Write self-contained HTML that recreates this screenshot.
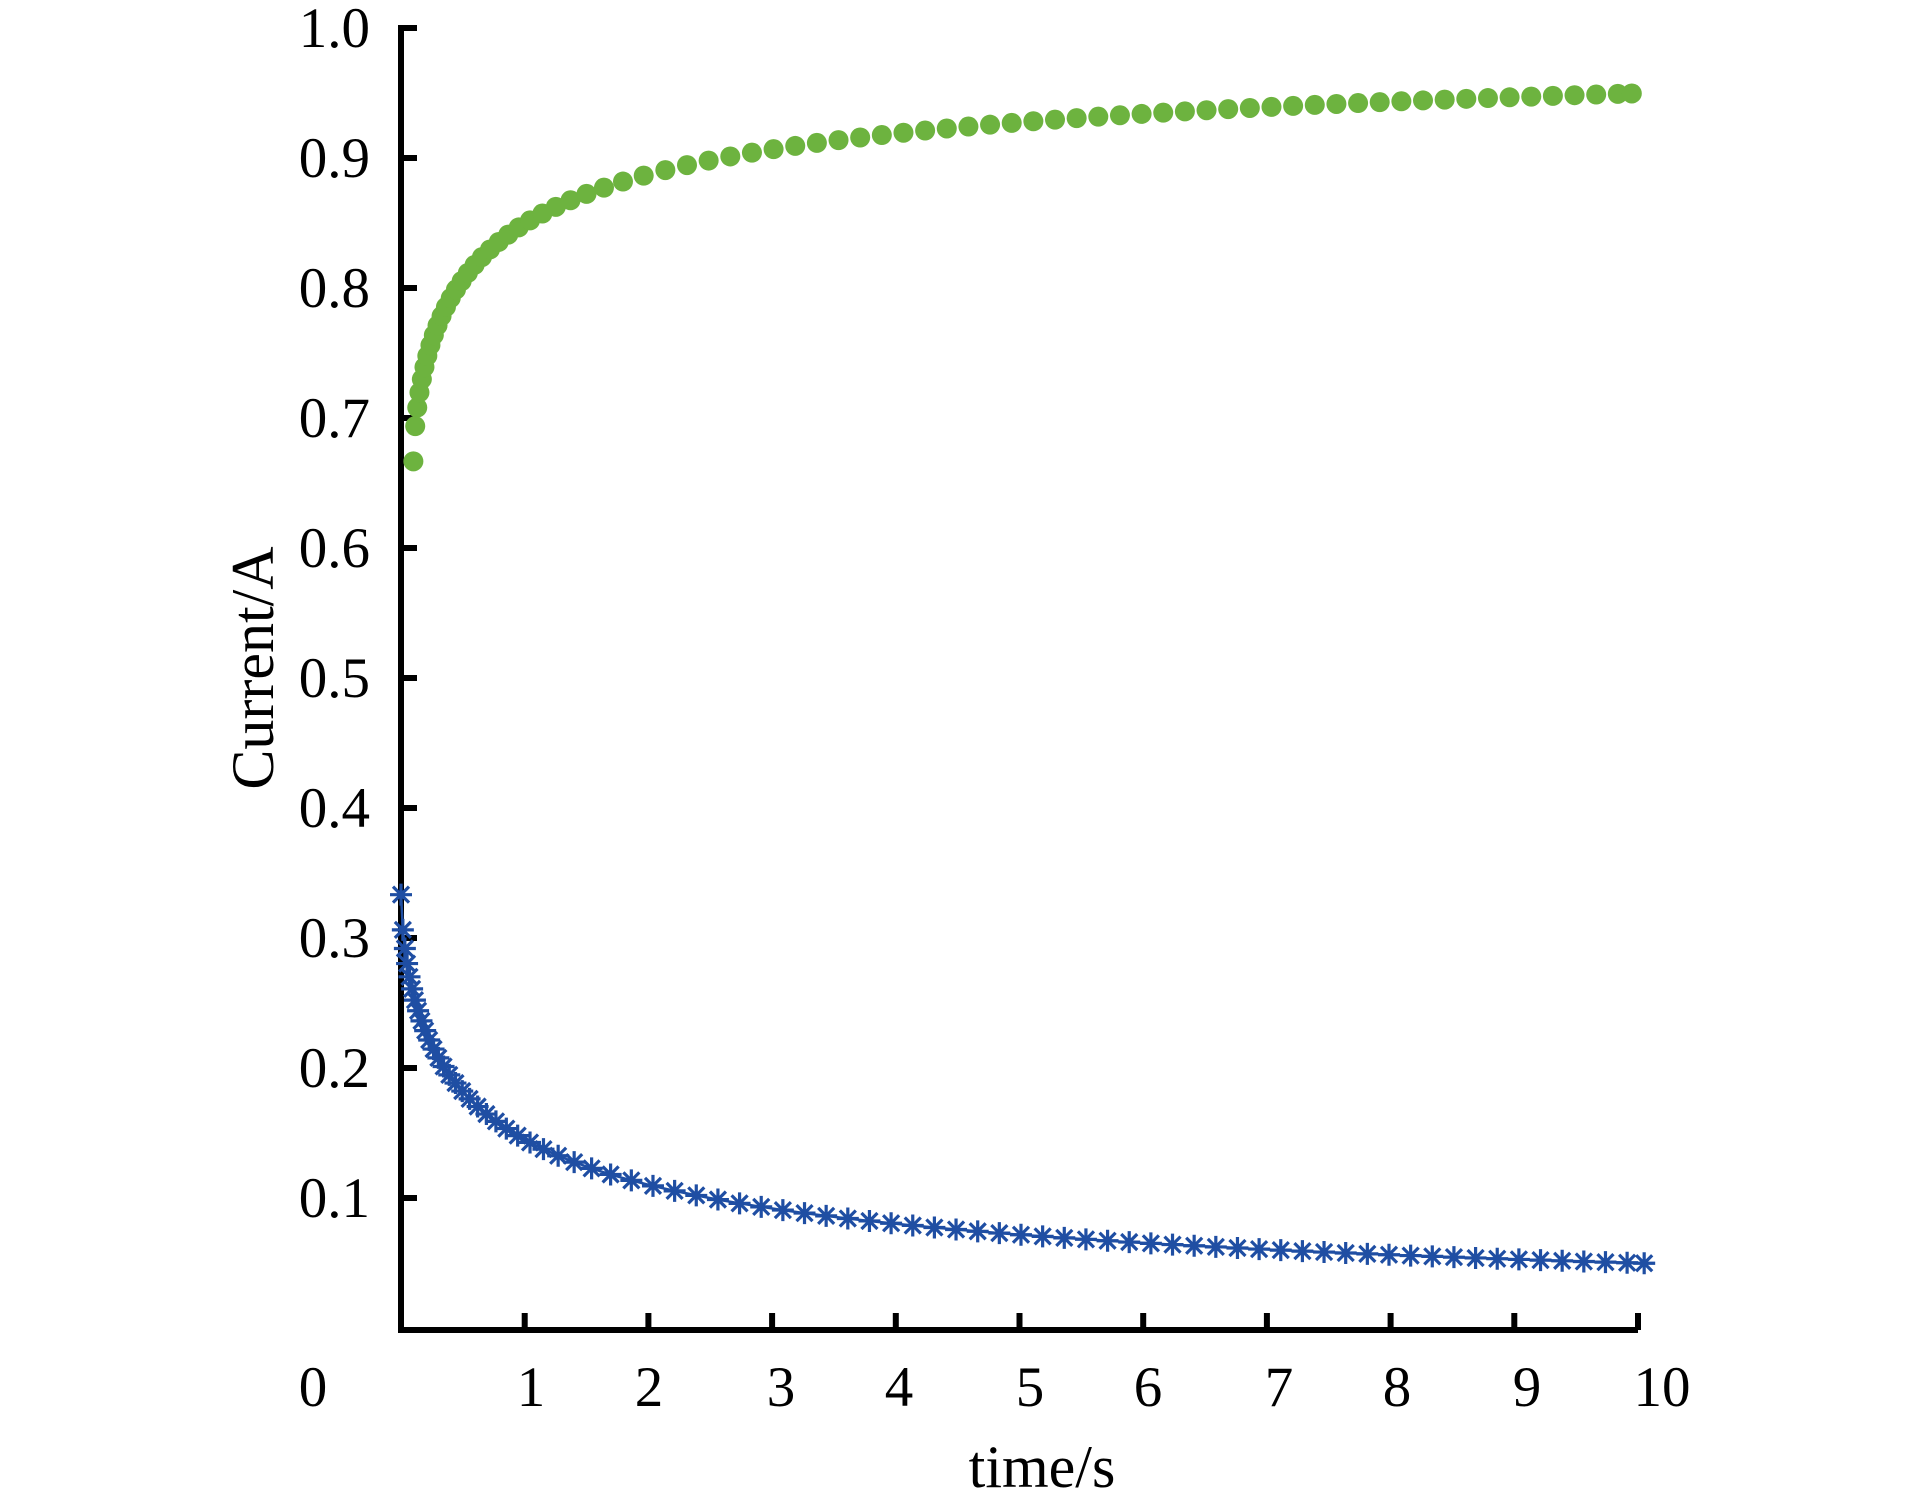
<!DOCTYPE html>
<html><head><meta charset="utf-8"><style>
html,body{margin:0;padding:0;background:#fff;}
svg{display:block;}
text{font-family:"Liberation Serif",serif;fill:#000;}
</style></head><body>
<svg id="s" width="1913" height="1488" viewBox="0 0 1913 1488" xmlns="http://www.w3.org/2000/svg">
<g font-size="57" text-anchor="end">
<text x="370" y="47">1.0</text>
<text x="370" y="177">0.9</text>
<text x="370" y="307">0.8</text>
<text x="370" y="437">0.7</text>
<text x="370" y="567">0.6</text>
<text x="370" y="697">0.5</text>
<text x="370" y="827">0.4</text>
<text x="370" y="957">0.3</text>
<text x="370" y="1087">0.2</text>
<text x="370" y="1217">0.1</text>
</g>
<g font-size="57" text-anchor="middle">
<text x="313" y="1406">0</text>
<text x="531" y="1406">1</text>
<text x="649" y="1406">2</text>
<text x="781" y="1406">3</text>
<text x="899" y="1406">4</text>
<text x="1030" y="1406">5</text>
<text x="1148" y="1406">6</text>
<text x="1279" y="1406">7</text>
<text x="1397" y="1406">8</text>
<text x="1527" y="1406">9</text>
<text x="1662" y="1406">10</text>
<text x="1042" y="1487" font-size="60">time/s</text>
<text transform="translate(273,668) rotate(-90)" font-size="60">Current/A</text>
</g>
<g id="axes" stroke="#000" stroke-width="6" fill="none"></g>
<g id="blue"></g>
<g id="green"></g>
</svg>
<script>
var NS="http://www.w3.org/2000/svg";
function el(p,n,a){var e=document.createElementNS(NS,n);for(var k in a)e.setAttribute(k,a[k]);p.appendChild(e);return e;}
var ax=document.getElementById("axes");
el(ax,"path",{d:"M401,25 L401,1330 L1638,1330"});
for(var i=1;i<=10;i++){var y=1328-i*130;el(ax,"line",{x1:401,y1:y,x2:417,y2:y});}
for(var i=1;i<=10;i++){var x=401+i*123.7;el(ax,"line",{x1:x,y1:1330,x2:x,y2:1313});}
function X(t){return 401+t*123.7;} function Y(v){return 1328-v*1300;}
function blue(t){return 1/(3+3.9*Math.pow(Math.max(t,0),0.64));}
function samp(t0,t1){var a=[],t=t0;while(t<=t1+1e-9){a.push(t);t+=Math.min(0.175,0.015+0.09*(t-t0));}
 if(t1-a[a.length-1]>0.08)a.push(t1);else a[a.length-1]=t1;return a;}
var ts=samp(0,10.05);
var bg=document.getElementById("blue");
var pts=ts.map(function(t){return X(t).toFixed(1)+","+Y(blue(t)).toFixed(1);});
el(bg,"polyline",{points:pts.join(" "),fill:"none",stroke:"#1f4ea3","stroke-width":2.5});
ts.forEach(function(t){var x=X(t),y=Y(blue(t)),r=11,d=8;
 el(bg,"path",{d:"M"+x+","+(y-r)+"V"+(y+r)+"M"+(x-r)+","+y+"H"+(x+r)+"M"+(x-d)+","+(y-d)+"L"+(x+d)+","+(y+d)+"M"+(x-d)+","+(y+d)+"L"+(x+d)+","+(y-d),stroke:"#1f4ea3","stroke-width":3.2,fill:"none"});});
var gg=document.getElementById("green");
var tg=samp(0.1,9.95);
tg.forEach(function(t){el(gg,"circle",{cx:X(t),cy:Y(1-blue(t-0.1)),r:10,fill:"#6db33f"});});
</script>
</body></html>
